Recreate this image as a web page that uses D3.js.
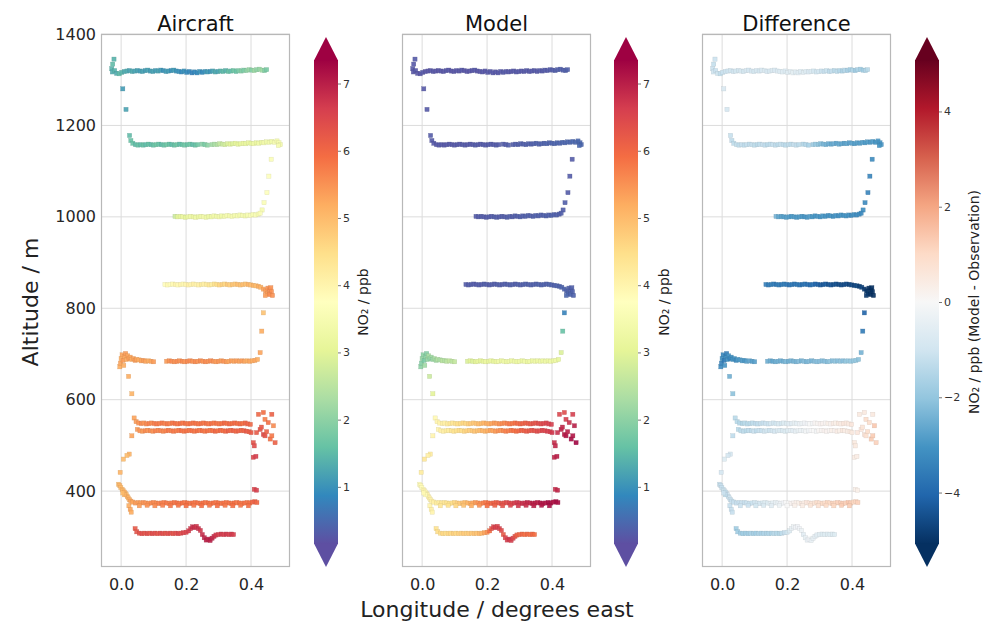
<!DOCTYPE html>
<html><head><meta charset="utf-8">
<script src="https://cdn.jsdelivr.net/npm/d3@7"></script>
<style>body{margin:0;background:#fff}svg{display:block}text{font-family:"DejaVu Sans",sans-serif}</style>
</head><body><svg id="c" width="984" height="628"></svg>
<script>
// Each row: [longitude (deg E), altitude (m), aircraft NO2 (ppb), model NO2 (ppb)]
const leg1320 = [
[-0.022,1345,1.4,0.30],[-0.026,1334,1.5,0.28],[-0.029,1324,1.4,0.27],[-0.027,1317,1.3,0.25],[-0.020,1320,1.4,0.27],
[-0.014,1314,1.3,0.24],[-0.006,1313,1.5,0.25],[0.002,1316,1.4,0.27],[0.010,1318,1.3,0.24],[0.018,1319,1.3,0.23],
[0.026,1320,1.2,0.25],[0.034,1318,1.3,0.26],[0.042,1319,1.2,0.24],[0.050,1320,1.2,0.23],[0.058,1319,1.1,0.25],
[0.066,1318,1.2,0.24],[0.074,1320,1.1,0.26],[0.082,1321,1.2,0.25],[0.090,1319,1.1,0.23],[0.098,1318,1.2,0.24],
[0.106,1320,1.1,0.25],[0.114,1319,1.2,0.24],[0.122,1321,1.1,0.26],[0.130,1320,1.0,0.25],[0.138,1318,1.1,0.23],
[0.146,1319,1.1,0.24],[0.154,1320,1.0,0.25],[0.162,1321,1.1,0.27],[0.170,1319,1.0,0.25],[0.178,1318,1.0,0.24],
[0.186,1317,0.9,0.26],[0.194,1319,1.0,0.25],[0.202,1316,0.9,0.27],[0.210,1318,0.9,0.28],[0.218,1315,0.8,0.27],
[0.226,1317,0.9,0.26],[0.234,1315,0.9,0.28],[0.242,1318,1.0,0.27],[0.250,1316,0.9,0.29],[0.258,1318,1.0,0.27],
[0.266,1317,1.1,0.28],[0.274,1318,1.0,0.26],[0.282,1319,1.2,0.27],[0.290,1317,1.3,0.29],[0.298,1318,1.2,0.27],
[0.306,1319,1.4,0.28],[0.314,1318,1.5,0.27],[0.322,1320,1.4,0.29],[0.330,1318,1.6,0.28],[0.338,1319,1.5,0.27],
[0.346,1320,1.7,0.29],[0.354,1318,1.6,0.28],[0.362,1320,1.8,0.30],[0.370,1319,1.9,0.29],[0.378,1321,1.8,0.31],
[0.386,1320,2.0,0.30],[0.394,1322,2.1,0.32],[0.402,1321,1.9,0.33],[0.410,1320,2.2,0.34],[0.418,1322,2.0,0.35],
[0.426,1323,2.1,0.36],[0.434,1321,2.2,0.35],[0.442,1320,1.9,0.37],[0.448,1322,1.8,0.36]
];
const descent1 = [
[0.005,1280,1.1,0.28],[0.015,1235,1.2,0.29],[0.026,1178,1.5,0.31]
];
const leg1160 = [
[0.030,1167,1.6,0.29],[0.036,1161,1.6,0.27],[0.044,1158,1.5,0.28],[0.052,1157,1.6,0.27],[0.060,1158,1.5,0.29],
[0.068,1157,1.6,0.28],[0.076,1158,1.5,0.27],[0.084,1159,1.6,0.29],[0.092,1158,1.5,0.28],[0.100,1157,1.6,0.27],
[0.108,1158,1.7,0.29],[0.116,1159,1.6,0.28],[0.124,1158,1.5,0.30],[0.132,1157,1.6,0.29],[0.140,1158,1.7,0.28],
[0.148,1159,1.6,0.30],[0.156,1158,1.5,0.29],[0.164,1157,1.6,0.31],[0.172,1158,1.7,0.30],[0.180,1159,1.5,0.29],
[0.188,1158,1.6,0.31],[0.196,1157,1.7,0.30],[0.204,1158,1.6,0.32],[0.212,1159,1.7,0.31],[0.220,1158,1.5,0.30],
[0.228,1157,1.6,0.32],[0.236,1158,1.7,0.31],[0.250,1159,1.9,0.33],[0.258,1158,1.8,0.32],[0.266,1157,2.0,0.34],
[0.280,1158,2.2,0.33],[0.288,1159,2.3,0.35],[0.296,1158,2.4,0.34],[0.304,1160,2.6,0.36],[0.312,1159,2.7,0.35],
[0.320,1158,2.8,0.37],[0.328,1160,2.9,0.36],[0.336,1159,3.0,0.38],[0.344,1160,2.9,0.37],[0.352,1161,3.1,0.39],
[0.360,1159,3.0,0.38],[0.368,1160,3.1,0.40],[0.376,1161,3.2,0.39],[0.384,1160,3.1,0.41],[0.392,1162,3.2,0.40],
[0.400,1161,3.1,0.42],[0.408,1160,3.3,0.41],[0.416,1162,3.2,0.43],[0.424,1161,3.3,0.42],[0.432,1163,3.2,0.44],
[0.440,1162,3.4,0.43],[0.448,1164,3.3,0.45],[0.456,1163,3.4,0.44],[0.464,1165,3.3,0.46],[0.472,1163,3.5,0.45],
[0.480,1166,3.4,0.47],[0.486,1162,3.5,0.46],[0.490,1158,3.4,0.45],[0.484,1156,3.5,0.47]
];
const descent2 = [
[0.462,1126,3.6,0.32],[0.455,1089,3.7,0.31],[0.449,1053,3.7,0.32],[0.440,1031,3.6,0.35],[0.434,1015,3.5,0.34]
];
const leg1000 = [
[0.166,1001,2.7,0.32],[0.174,1000,3.0,0.31],[0.182,1001,3.1,0.33],[0.190,1000,3.2,0.32],[0.198,999,3.1,0.31],
[0.206,1000,3.2,0.33],[0.214,1001,3.3,0.32],[0.222,1000,3.2,0.34],[0.230,999,3.3,0.33],[0.238,1000,3.2,0.32],
[0.246,1001,3.3,0.34],[0.254,1000,3.4,0.33],[0.262,999,3.3,0.35],[0.270,1001,3.2,0.34],[0.278,1000,3.3,0.33],
[0.286,1002,3.4,0.35],[0.294,1001,3.3,0.34],[0.302,1000,3.4,0.36],[0.310,1002,3.3,0.35],[0.318,1001,3.4,0.37],
[0.326,1003,3.5,0.36],[0.334,1002,3.4,0.37],[0.342,1001,3.5,0.36],[0.350,1003,3.4,0.38],[0.358,1002,3.5,0.37],
[0.366,1004,3.4,0.38],[0.374,1003,3.5,0.37],[0.382,1002,3.4,0.39],[0.390,1004,3.5,0.38],[0.398,1003,3.6,0.39],
[0.406,1005,3.5,0.38],[0.414,1004,3.6,0.37],[0.422,1006,3.5,0.36],[0.428,1008,3.6,0.35]
];
const leg850 = [
[0.135,852,3.8,0.32],[0.143,851,3.9,0.31],[0.151,852,3.8,0.33],[0.159,853,3.9,0.32],[0.167,852,4.0,0.31],
[0.175,851,3.9,0.33],[0.183,852,4.0,0.32],[0.191,853,3.9,0.34],[0.199,852,4.0,0.33],[0.207,851,4.1,0.32],
[0.215,852,4.0,0.34],[0.223,853,4.1,0.33],[0.231,852,4.0,0.35],[0.239,851,4.1,0.34],[0.247,852,4.2,0.33],
[0.255,853,4.1,0.35],[0.263,852,4.2,0.34],[0.271,851,4.3,0.36],[0.279,852,4.2,0.35],[0.287,853,4.4,0.34],
[0.295,852,4.5,0.36],[0.303,851,4.6,0.35],[0.311,852,4.7,0.37],[0.319,853,4.6,0.36],[0.327,852,4.8,0.37],
[0.335,851,4.7,0.36],[0.343,852,4.9,0.38],[0.351,853,4.8,0.37],[0.359,852,5.0,0.39],[0.367,851,4.9,0.38],
[0.375,852,5.0,0.39],[0.383,853,4.9,0.37],[0.391,852,5.1,0.40],[0.399,851,5.0,0.39],[0.407,850,5.1,0.38],
[0.415,849,5.0,0.40],[0.423,848,5.2,0.39],[0.430,846,5.1,0.41],
[0.438,842,5.3,0.42],[0.445,838,5.4,0.39],[0.452,844,5.5,0.37],[0.458,840,5.6,0.40],[0.463,836,5.5,0.38],
[0.450,832,5.4,0.43],[0.457,830,5.6,0.41],[0.466,828,5.5,0.39],[0.444,828,5.4,0.45],[0.461,845,5.5,0.37]
];
const descent3 = [
[0.438,790,4.9,0.8],[0.433,750,5.2,1.6],[0.428,703,5.3,2.9]
];
const leg685 = [
[-0.004,672,5.2,2.0],[-0.002,680,5.3,1.9],[0.000,690,5.2,2.1],[0.003,698,5.3,2.0],[0.006,686,5.4,1.8],
[0.008,675,5.2,2.2],[0.011,694,5.3,2.0],[0.014,701,5.4,1.9],[0.017,688,5.2,2.1],[0.020,696,5.3,2.3],
[0.024,690,5.4,2.0],[0.028,693,5.3,2.2],[0.033,688,5.2,2.1],[0.038,690,5.3,2.3],[0.043,686,5.4,2.2],
[0.048,688,5.3,2.4],[0.055,687,5.2,2.3],[0.062,685,5.3,2.5],[0.069,686,5.4,2.4],[0.076,684,5.3,2.5],
[0.084,685,5.2,2.6],[0.092,684,5.3,2.5],[0.100,683,5.4,2.6],
[0.140,684,5.4,2.9],[0.148,685,5.5,3.0],[0.156,684,5.6,2.9],[0.164,683,5.5,3.0],[0.172,684,5.6,3.1],
[0.180,685,5.5,3.0],[0.188,684,5.6,3.1],[0.196,683,5.5,3.2],[0.204,684,5.6,3.1],[0.212,685,5.6,3.2],
[0.220,684,5.5,3.1],[0.228,683,5.6,3.2],[0.236,684,5.5,3.3],[0.244,685,5.6,3.2],[0.252,684,5.5,3.3],
[0.260,683,5.6,3.2],[0.268,684,5.5,3.3],[0.276,685,5.6,3.2],[0.284,684,5.5,3.3],[0.292,683,5.4,3.2],
[0.300,684,5.5,3.3],[0.308,685,5.4,3.2],[0.316,684,5.5,3.3],[0.324,683,5.4,3.2],[0.332,684,5.3,3.3],
[0.340,685,5.4,3.2],[0.348,684,5.3,3.3],[0.356,685,5.4,3.2],[0.364,684,5.3,3.3],[0.372,685,5.4,3.2],
[0.380,684,5.3,3.3],[0.388,685,5.2,3.2],[0.396,684,5.3,3.3],[0.404,685,5.2,3.2],[0.412,686,5.3,3.3],
[0.420,688,5.2,3.1]
];
const descent4 = [
[0.023,651,5.2,2.7],[0.033,613,5.1,3.0]
];
const leg540 = [
[0.040,560,5.3,3.9],[0.046,552,5.4,4.0],[0.054,549,5.5,4.0],[0.062,548,5.6,4.1],[0.070,549,5.5,4.1],
[0.078,547,5.6,4.2],[0.086,548,5.7,4.3],[0.094,549,5.6,4.3],[0.102,548,5.7,4.4],[0.110,547,5.8,4.5],
[0.118,548,5.7,4.5],[0.126,549,5.8,4.6],[0.134,548,5.7,4.6],[0.142,547,5.8,4.7],[0.150,548,5.7,4.8],
[0.158,549,5.8,4.8],[0.166,548,5.9,4.9],[0.174,547,5.8,5.0],[0.182,548,5.9,5.0],[0.190,549,5.8,5.1],
[0.198,548,5.9,5.2],[0.206,547,5.8,5.2],[0.214,548,5.9,5.3],[0.222,549,5.8,5.4],[0.230,548,5.9,5.4],
[0.238,547,5.8,5.5],[0.246,548,5.9,5.6],[0.254,549,5.8,5.6],[0.262,548,5.9,5.7],[0.270,547,5.8,5.8],
[0.278,548,5.9,5.8],[0.286,549,5.8,5.9],[0.294,548,5.9,6.0],[0.302,547,5.8,6.0],[0.310,548,5.9,6.1],
[0.318,549,6.0,6.1],[0.326,548,5.9,6.2],[0.334,547,6.0,6.2],[0.342,548,5.9,6.3],[0.350,549,6.0,6.3],
[0.358,548,5.9,6.4],[0.366,547,6.0,6.4],[0.374,548,5.9,6.5],[0.382,549,6.0,6.5],[0.390,547,6.1,6.6],
[0.398,546,6.0,6.6],
[0.050,535,5.4,4.0],[0.058,532,5.5,4.1],[0.066,531,5.4,4.1],[0.074,532,5.6,4.2],[0.082,533,5.5,4.2],
[0.090,532,5.6,4.3],[0.098,531,5.5,4.4],[0.106,532,5.7,4.4],[0.114,533,5.6,4.5],[0.122,532,5.7,4.5],
[0.130,531,5.6,4.6],[0.138,532,5.7,4.7],[0.146,533,5.8,4.7],[0.154,532,5.7,4.8],[0.162,531,5.8,4.9],
[0.170,532,5.7,4.9],[0.178,533,5.8,5.0],[0.186,532,5.9,5.1],[0.194,531,5.8,5.1],[0.202,532,5.9,5.2],
[0.210,533,5.8,5.3],[0.218,532,5.9,5.3],[0.226,531,5.8,5.4],[0.234,532,5.9,5.5],[0.242,533,5.8,5.5],
[0.250,532,5.9,5.6],[0.258,531,5.8,5.7],[0.266,532,5.9,5.7],[0.274,533,5.8,5.8],[0.282,532,5.9,5.9],
[0.290,531,6.0,5.9],[0.298,532,5.9,6.0],[0.306,533,6.0,6.1],[0.314,532,5.9,6.1],[0.322,531,6.0,6.2],
[0.330,532,6.1,6.2],[0.338,533,6.0,6.3],[0.346,532,6.1,6.3],[0.354,531,6.0,6.4],[0.362,532,6.1,6.4],
[0.370,533,6.0,6.5],[0.378,532,6.1,6.5],[0.386,531,6.2,6.6],[0.394,530,6.1,6.6],[0.400,528,6.2,6.7],
[0.417,528,6.2,6.8],[0.423,568,6.0,6.5],[0.428,535,6.3,6.9],[0.438,572,5.9,6.4],[0.438,524,6.4,7.0],
[0.443,557,5.7,6.6],[0.443,521,6.3,7.1],[0.453,550,5.9,6.8],[0.459,514,5.9,7.2],[0.464,568,6.1,6.6],
[0.464,521,5.8,7.1],[0.469,543,5.6,7.0],[0.474,506,6.1,7.3],[0.407,506,6.3,6.8],[0.410,499,6.4,6.9],
[0.432,540,6.2,6.9],[0.448,530,6.1,7.0]
];
const descent5 = [
[0.033,521,5.3,4.0],[0.025,481,5.1,4.2],[0.018,478,5.0,4.1],[0.007,470,5.0,4.3],[-0.003,441,5.1,4.2],
[0.407,474,6.5,6.9],[0.415,476,6.6,7.0],[0.410,404,6.5,6.8],[0.417,402,6.6,6.9]
];
const leg375 = [
[-0.008,415,5.0,3.8],[-0.004,412,5.1,3.9],[-0.001,408,5.0,3.8],[0.003,404,5.1,3.9],[0.006,401,5.0,4.0],
[0.010,398,5.2,3.9],[0.013,395,5.1,4.0],[0.016,392,5.0,4.1],[0.019,388,5.2,4.0],[0.022,385,5.1,4.1],
[0.026,381,5.2,4.0],[0.030,378,5.3,4.1],[0.024,368,5.2,4.0],[0.028,360,5.3,4.1],[0.031,354,5.2,4.0],
[0.010,392,5.1,3.8],[0.005,396,5.0,3.9],
[0.036,376,5.3,4.1],[0.044,374,5.4,4.2],[0.052,375,5.4,4.2],[0.060,374,5.4,4.3],[0.068,375,5.5,4.3],
[0.076,374,5.5,4.4],[0.084,373,5.5,4.4],[0.092,374,5.6,4.5],[0.100,375,5.6,4.6],[0.108,374,5.6,4.7],
[0.116,373,5.7,4.8],[0.124,374,5.7,4.9],[0.132,375,5.7,5.0],[0.140,374,5.8,5.1],[0.148,373,5.7,5.2],
[0.156,374,5.8,5.3],[0.164,375,5.8,5.4],[0.172,374,5.9,5.5],[0.180,373,5.8,5.6],[0.188,374,5.9,5.7],
[0.196,375,5.8,5.8],[0.204,374,5.9,5.9],[0.212,373,5.8,6.0],[0.220,374,5.9,6.1],[0.228,375,5.8,6.1],
[0.236,374,5.9,6.2],[0.244,373,5.8,6.3],[0.252,374,5.9,6.3],[0.260,375,5.8,6.4],[0.268,374,5.9,6.5],
[0.276,373,5.8,6.5],[0.284,374,5.9,6.6],[0.292,375,5.8,6.7],[0.300,374,5.9,6.7],[0.308,373,5.8,6.8],
[0.316,374,5.9,6.8],[0.324,375,5.8,6.9],[0.332,374,5.9,6.9],[0.340,373,5.8,7.0],[0.348,374,5.9,7.0],
[0.356,375,5.8,7.0],[0.364,374,5.9,7.1],[0.372,373,5.8,7.1],[0.380,374,5.9,7.1],[0.388,375,5.8,7.2],
[0.396,374,5.9,7.2],[0.404,376,6.0,7.1],[0.412,377,6.1,7.2],[0.418,375,6.0,7.2],
[0.056,368,5.4,4.3],[0.080,369,5.5,4.4],[0.104,368,5.6,4.6],[0.128,369,5.7,4.9],[0.152,368,5.8,5.2],
[0.176,369,5.8,5.5],[0.200,368,5.9,5.9],[0.224,369,5.8,6.1],[0.248,368,5.9,6.3],[0.272,369,5.8,6.5],
[0.296,368,5.9,6.7],[0.320,369,5.8,6.8],[0.344,368,5.9,7.0],[0.368,369,5.8,7.1],[0.392,368,5.9,7.2]
];
const leg305 = [
[0.043,318,6.2,4.4],[0.048,311,6.3,4.5],[0.056,308,6.3,4.5],[0.064,307,6.4,4.6],[0.072,308,6.3,4.5],
[0.080,307,6.4,4.6],[0.088,308,6.3,4.6],[0.096,307,6.4,4.7],[0.104,308,6.4,4.6],[0.112,307,6.3,4.7],
[0.120,308,6.4,4.7],[0.128,307,6.4,4.8],[0.136,308,6.3,4.7],[0.144,307,6.4,4.8],[0.152,308,6.4,4.8],
[0.160,307,6.3,4.9],[0.168,308,6.4,4.9],[0.176,307,6.5,5.0],[0.184,308,6.4,5.1],[0.192,309,6.5,5.3],
[0.200,310,6.5,5.5],[0.208,313,6.6,5.9],[0.214,318,6.7,6.3],[0.220,322,6.8,6.5],[0.226,320,6.8,6.6],
[0.232,323,6.7,6.5],[0.238,318,6.8,6.6],[0.244,314,6.7,6.4],[0.250,305,6.8,6.2],[0.256,298,6.9,6.5],
[0.262,293,7.0,6.6],[0.268,295,6.9,6.7],[0.274,292,7.0,6.6],[0.280,297,6.9,6.5],[0.286,301,6.8,6.3],
[0.292,304,6.7,6.1],[0.300,305,6.6,6.0],[0.308,306,6.7,6.0],[0.316,305,6.6,5.9],[0.324,306,6.7,6.0],
[0.332,305,6.6,5.9],[0.340,306,6.7,6.0],[0.346,305,6.6,5.9]
];

const panelTitles = ["Aircraft", "Model", "Difference"];
const xTicks = [0.0, 0.2, 0.4];
const yTicks = [400, 600, 800, 1000, 1200, 1400];
const no2Ticks = [1, 2, 3, 4, 5, 6, 7];
const diffTicks = [-4, -2, 0, 2, 4];
const no2Range = [0.15, 7.35];
const diffRange = [-5.08, 5.08];
const lonRange = [-0.062, 0.52];
const altRange = [234, 1400];

const spectralR = ["#5e4fa2","#3288bd","#66c2a5","#abdda4","#e6f598","#ffffbf","#fee08b","#fdae61","#f46d43","#d53e4f","#9e0142"];
const rdbuR = ["#053061","#2166ac","#4393c3","#92c5de","#d1e5f0","#f7f7f7","#fddbc7","#f4a582","#d6604d","#b2182b","#67001f"];

const track = [].concat(leg1320, descent1, leg1160, descent2, leg1000, leg850, descent3,
  leg685, descent4, leg540, descent5, leg375, leg305);

function ramp(colors, lo, hi) {
  const n = colors.length - 1;
  return d3.scaleLinear().domain(colors.map((c, i) => lo + (hi - lo) * i / n))
    .range(colors).interpolate(d3.interpolateRgb).clamp(true);
}
const no2Color = ramp(spectralR, no2Range[0], no2Range[1]);
const diffColor = ramp(rdbuR, diffRange[0], diffRange[1]);

const svg = d3.select("#c");
const pTop = 34, pBot = 567, pw = 189;
const y = d3.scaleLinear().domain(altRange).range([pBot, pTop]);

const panels = [
  {x0: 101, val: d => d[2], color: no2Color, cb: 314, ticks: no2Ticks, range: no2Range, cmap: spectralR,
   label: "NO₂ / ppb", lx: 363, fmt: d => String(d)},
  {x0: 402, val: d => d[3], color: no2Color, cb: 614, ticks: no2Ticks, range: no2Range, cmap: spectralR,
   label: "NO₂ / ppb", lx: 664, fmt: d => String(d)},
  {x0: 702, val: d => d[3] - d[2], color: diffColor, cb: 915, ticks: diffTicks, range: diffRange, cmap: rdbuR,
   label: "NO₂ / ppb (Model - Observation)", lx: 974, fmt: d => (d < 0 ? "\u2212" + Math.abs(d) : String(d))}
];

const defs = svg.append("defs");
const ms = 4.2;

panels.forEach((p, i) => {
  const x = d3.scaleLinear().domain(lonRange).range([p.x0, p.x0 + pw]);
  const g = svg.append("g");
  g.selectAll(".gx").data(xTicks).join("line")
    .attr("x1", d => x(d)).attr("x2", d => x(d)).attr("y1", pTop).attr("y2", pBot)
    .attr("stroke", "#dcdcdc").attr("stroke-width", 1);
  g.selectAll(".gy").data(yTicks).join("line")
    .attr("x1", p.x0).attr("x2", p.x0 + pw).attr("y1", d => y(d)).attr("y2", d => y(d))
    .attr("stroke", "#dcdcdc").attr("stroke-width", 1);
  g.selectAll("rect.pt").data(track).join("rect").attr("class", "pt")
    .attr("x", d => x(d[0]) - ms / 2).attr("y", d => y(d[1]) - ms / 2)
    .attr("width", ms).attr("height", ms)
    .attr("fill", d => p.color(p.val(d)))
    .attr("stroke", d => d3.color(p.color(p.val(d))).darker(0.5))
    .attr("stroke-width", 0.4).attr("stroke-opacity", 0.7).attr("fill-opacity", 0.9);
  g.append("rect").attr("x", p.x0 + 0.5).attr("y", pTop + 0.5).attr("width", pw - 1).attr("height", pBot - pTop - 1)
    .attr("fill", "none").attr("stroke", "#b8b8b8").attr("stroke-width", 1.2);
  const xa = d3.axisBottom(x).tickValues(xTicks).tickFormat(d3.format(".1f")).tickSize(0).tickPadding(12);
  const gxAxis = g.append("g").attr("transform", `translate(0,${pBot})`).call(xa);
  gxAxis.select(".domain").remove();
  gxAxis.selectAll("text").attr("font-size", 16).attr("fill", "#262626").attr("font-family", "DejaVu Sans");
  if (i === 0) {
    const ya = d3.axisLeft(y).tickValues(yTicks).tickFormat(d3.format("d")).tickSize(0).tickPadding(5);
    const gyAxis = g.append("g").attr("transform", `translate(${p.x0},0)`).call(ya);
    gyAxis.select(".domain").remove();
    gyAxis.selectAll("text").attr("font-size", 16).attr("fill", "#262626").attr("font-family", "DejaVu Sans");
  }
  svg.append("text").attr("x", p.x0 + pw / 2).attr("y", 31).attr("text-anchor", "middle")
    .attr("font-size", 21).attr("fill", "#111").text(panelTitles[i]);

  const cbTop = 60, cbBot = 544, cw = 24, tipTop = 37, tipBot = 567;
  const yc = d3.scaleLinear().domain(p.range).range([cbBot, cbTop]);
  const gid = "grad" + i;
  const grad = defs.append("linearGradient").attr("id", gid)
    .attr("x1", 0).attr("y1", 1).attr("x2", 0).attr("y2", 0);
  grad.selectAll("stop").data(p.cmap).join("stop")
    .attr("offset", (d, k) => k / (p.cmap.length - 1)).attr("stop-color", d => d);
  const cb = svg.append("g");
  cb.append("rect").attr("x", p.cb).attr("y", cbTop).attr("width", cw).attr("height", cbBot - cbTop)
    .attr("fill", `url(#${gid})`);
  cb.append("path").attr("d", `M${p.cb},${cbTop + 0.5}L${p.cb + cw / 2},${tipTop}L${p.cb + cw},${cbTop + 0.5}Z`)
    .attr("fill", p.cmap[p.cmap.length - 1]);
  cb.append("path").attr("d", `M${p.cb},${cbBot - 0.5}L${p.cb + cw / 2},${tipBot}L${p.cb + cw},${cbBot - 0.5}Z`)
    .attr("fill", p.cmap[0]);
  const ca = d3.axisRight(yc).tickValues(p.ticks).tickFormat(p.fmt).tickSize(3).tickPadding(2);
  const gca = cb.append("g").attr("transform", `translate(${p.cb + cw},0)`).call(ca);
  gca.select(".domain").remove();
  gca.selectAll("line").attr("stroke", "#555").attr("stroke-width", 0.8);
  gca.selectAll("text").attr("font-size", 11).attr("fill", "#333").attr("font-family", "DejaVu Sans");
  svg.append("text").attr("transform", `translate(${p.lx},302) rotate(-90)`)
    .attr("text-anchor", "middle").attr("dominant-baseline", "central")
    .attr("font-size", 14).attr("fill", "#222").text(p.label);
});

svg.append("text").attr("transform", "translate(30,302) rotate(-90)")
  .attr("text-anchor", "middle").attr("dominant-baseline", "central")
  .attr("font-size", 22).attr("fill", "#222").text("Altitude / m");
svg.append("text").attr("x", 497).attr("y", 617).attr("text-anchor", "middle")
  .attr("font-size", 22).attr("fill", "#222").text("Longitude / degrees east");
</script></body></html>
